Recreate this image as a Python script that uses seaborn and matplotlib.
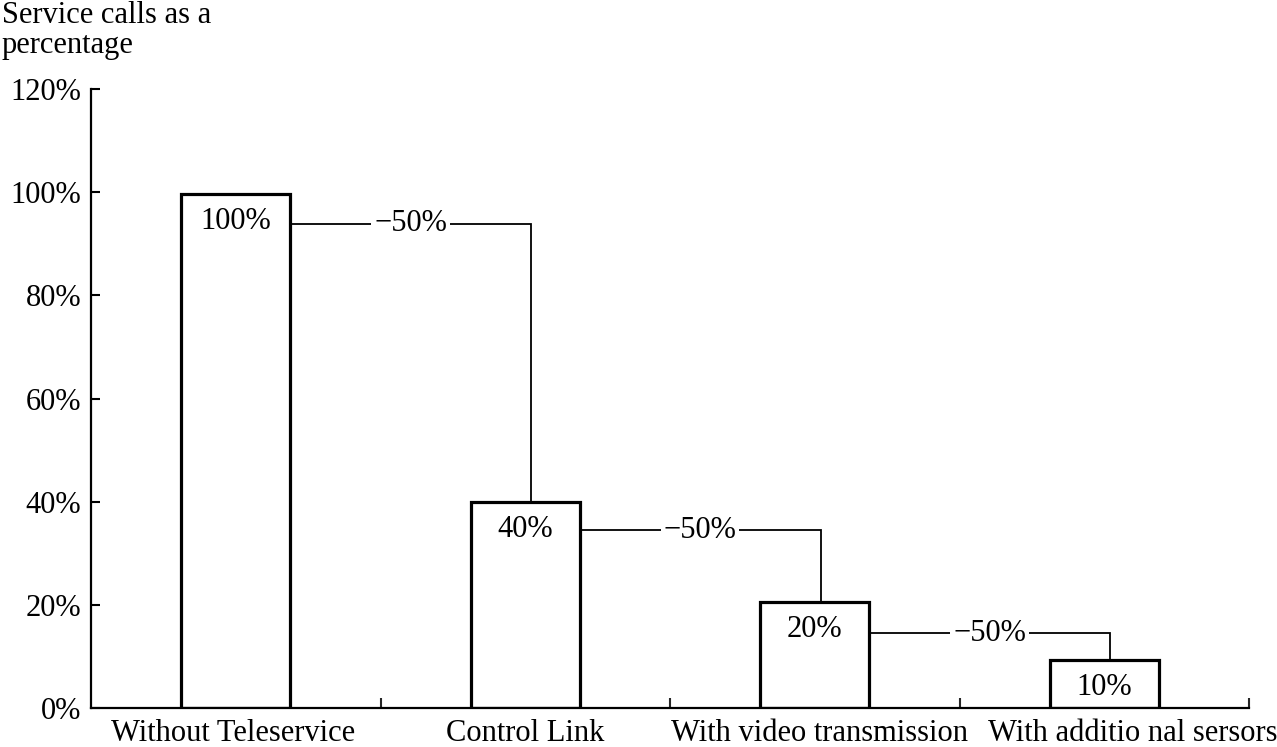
import matplotlib
matplotlib.use("Agg")
import matplotlib.pyplot as plt
import matplotlib.transforms as mtransforms
from matplotlib.ticker import PercentFormatter, FixedLocator
import seaborn as sns
import pandas as pd

# ---- data ----
categories = ["Without Teleservice", "Control Link", "With video transmission", "With additio nal sersors"]
heights = [99.7, 39.9, 20.6, 9.3]
bar_labels = ["100%", "40%", "20%", "10%"]
step_labels = ["\u221250%", "\u221250%", "\u221250%"]
step_levels = [93.9, 34.5, 14.5]
y_ticks = [0, 20, 40, 60, 80, 100, 120]
y_title = "Service calls as a\npercentage"

sns.set_style("white")
plt.rcParams["font.family"] = ["Liberation Serif", "DejaVu Serif"]
plt.rcParams["font.size"] = 22
plt.rcParams["text.color"] = "black"
plt.rcParams["axes.labelcolor"] = "black"

fig = plt.figure(figsize=(12.77, 7.47), dpi=100)
ax = fig.add_axes([91 / 1277, 1 - 708 / 747, (1249 - 91) / 1277, (708 - 89) / 747])

df = pd.DataFrame({"category": categories, "value": heights})
bar_w = 0.376
sns.barplot(data=df, x="category", y="value", order=categories, color="white",
            edgecolor="black", linewidth=2.3, width=bar_w, errorbar=None,
            saturation=1, ax=ax)

ax.set_xlim(-0.5, len(categories) - 0.5)
ax.set_ylim(0, 120)
ax.set_yticks(y_ticks)
ax.yaxis.set_major_formatter(PercentFormatter(decimals=0))
ax.set_xlabel("")
ax.set_ylabel("")

for s in ["top", "right"]:
    ax.spines[s].set_visible(False)
for s in ["left", "bottom"]:
    ax.spines[s].set_linewidth(1.6)
    ax.spines[s].set_color("black")

ax.tick_params(axis="y", direction="in", length=6.5, width=1.5, pad=7,
               labelsize=22, colors="black", left=True)
ax.tick_params(axis="x", which="major", length=0, pad=8, labelsize=22, colors="black")
ax.xaxis.set_minor_locator(FixedLocator([i + 0.5 for i in range(len(categories))]))
ax.tick_params(axis="x", which="minor", direction="in", length=7, width=1.5, bottom=True)

# shift category labels slightly (as in reference)
lbls = ax.get_xticklabels()
offs = [-3, 0, 5, 28]
for lab, o in zip(lbls, offs):
    lab.set_transform(lab.get_transform() + mtransforms.ScaledTranslation(o / 100, 0, fig.dpi_scale_trans))

# value labels inside bars
for i, (h, t) in enumerate(zip(heights, bar_labels)):
    ax.annotate(t, xy=(i, h), xytext=(0, -20), textcoords="offset points",
                ha="center", va="center", fontsize=22, color="black")

# step connectors
for i, (lvl, t) in enumerate(zip(step_levels, step_labels)):
    x0 = i + bar_w / 2
    x1 = i + 1 + 0.02
    ax.plot([x0, x1, x1], [lvl, lvl, heights[i + 1]], color="black", lw=1.3,
            solid_joinstyle="miter", zorder=3)
    ax.text((x0 + x1) / 2, lvl, t, ha="center", va="center", fontsize=22, zorder=4,
            color="black", bbox=dict(facecolor="white", edgecolor="none", pad=2))

fig.text(0.0015, 0.999, y_title, ha="left", va="top", fontsize=22, linespacing=1.05,
         color="black")

fig.savefig("out.png", dpi=100, facecolor="white")
